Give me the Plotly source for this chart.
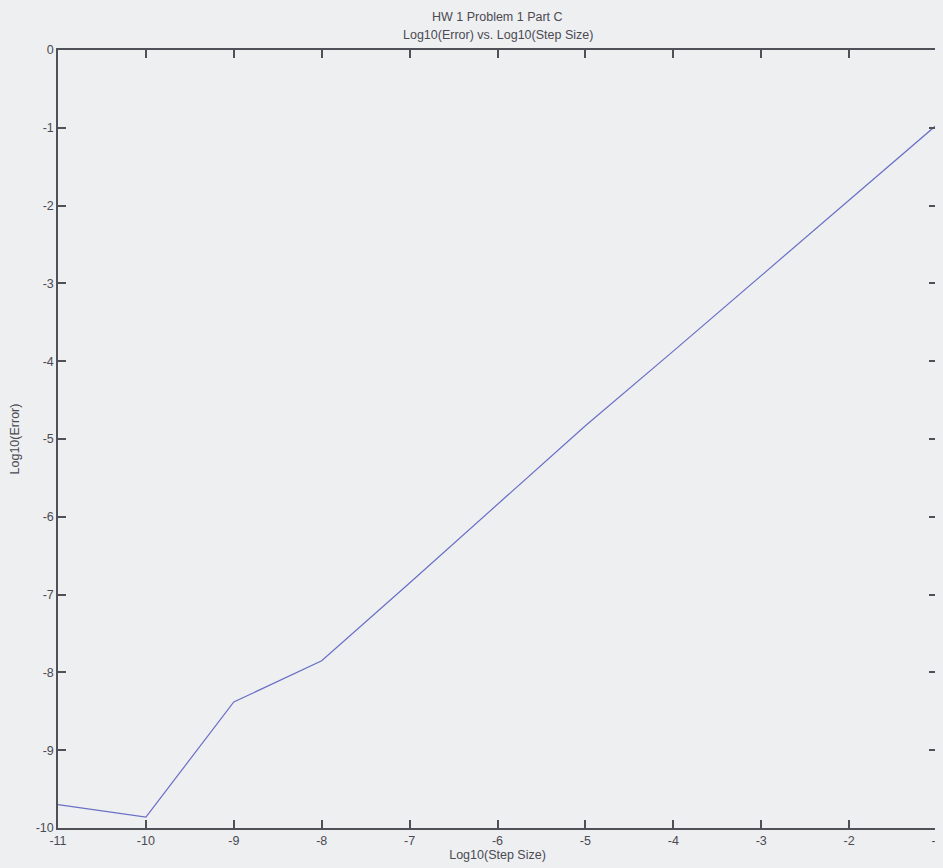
import plotly.graph_objects as go

log_step = [-11, -10, -9, -8, -7, -6, -5, -4, -3, -2, -1]
log_error = [-9.70, -9.86, -8.38, -7.85, -6.85, -5.84, -4.83, -3.87, -2.90, -1.93, -0.96]
x_ticks = [-11, -10, -9, -8, -7, -6, -5, -4, -3, -2, -1]
y_ticks = [0, -1, -2, -3, -4, -5, -6, -7, -8, -9, -10]

paper = "#eeeff1"
axis_col = "#505058"
text_col = "#4a4a52"
font = dict(family="Liberation Sans, Arial, sans-serif", size=12.5, color=text_col)

fig = go.Figure()
fig.add_trace(go.Scatter(
    x=log_step, y=log_error, mode="lines",
    line=dict(color="#6a6ec6", width=1.2),
    showlegend=False, hoverinfo="skip",
))

axis_common = dict(
    showgrid=False, zeroline=False, showline=True, linecolor=axis_col, linewidth=1.5,
    mirror="ticks", ticks="inside", ticklen=8, tickcolor=axis_col, tickwidth=1.5,
    tickfont=font,
)

fig.update_layout(
    width=935, height=860,
    paper_bgcolor=paper, plot_bgcolor=paper,
    margin=dict(l=50, r=0, t=42, b=40),
    font=font,
    xaxis=dict(range=[-11, -1], tickvals=x_ticks, ticktext=[str(v) for v in x_ticks],
               ticklabeloverflow="allow",
               title=dict(text="Log10(Step Size)", font=font, standoff=3), **axis_common),
    yaxis=dict(range=[-10, 0], tickvals=y_ticks, ticktext=[str(v) for v in y_ticks],
               title=dict(text="Log10(Error)", font=font, standoff=14), **axis_common),
    annotations=[
        dict(text="HW 1 Problem 1 Part C",
             xref="paper", yref="paper", x=0.5, y=1.0, yshift=24,
             xanchor="center", yanchor="bottom", showarrow=False, font=font),
        dict(text="Log10(Error) vs. Log10(Step Size)",
             xref="paper", yref="paper", x=0.5, y=1.0, yshift=6,
             xanchor="center", yanchor="bottom", showarrow=False, font=font),
    ],
)

fig.write_html("out.html", post_script="document.body.style.background='#eeeff1';")
